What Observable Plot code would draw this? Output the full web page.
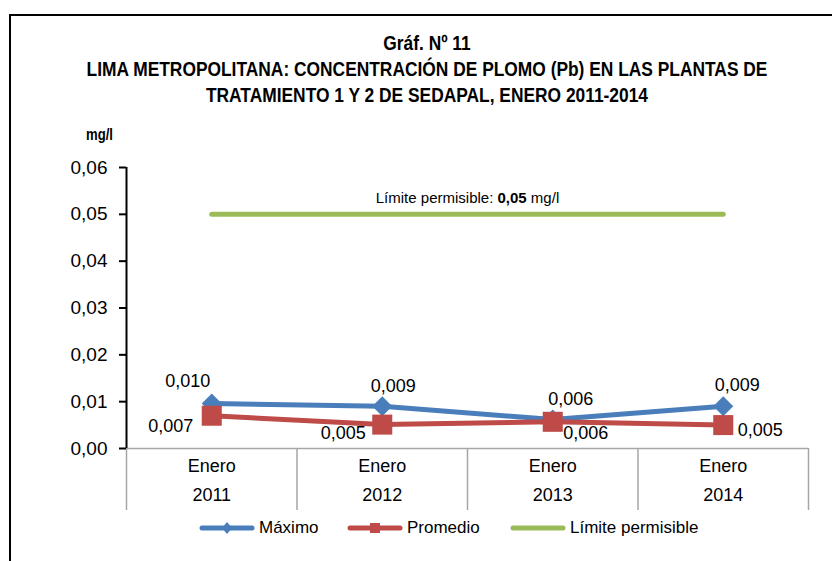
<!DOCTYPE html>
<html>
<head>
<meta charset="utf-8">
<script src="https://cdn.jsdelivr.net/npm/d3@7"></script>
<script src="https://cdn.jsdelivr.net/npm/@observablehq/plot@0.6"></script>
<style>
  html, body { margin: 0; padding: 0; background: #fff; }
  #wrap { position: relative; width: 832px; height: 561px; overflow: hidden; font-family: "Liberation Sans", Arial, sans-serif; color: #000; }
  #frame { position: absolute; left: 9px; top: 14px; width: 900px; height: 600px; border-left: 2px solid #000; border-top: 2px solid #000; }
  #title { position: absolute; left: 10px; width: 834px; top: 30px; text-align: center; font-family: "Liberation Sans", Arial, sans-serif; font-weight: bold; font-size: 21px; line-height: 26px; transform: scaleX(0.827); transform-origin: 417px 0; }
  #unit { position: absolute; left: 86px; top: 126px; font-family: "Liberation Sans", Arial, sans-serif; font-weight: bold; font-size: 16px; transform: scaleX(0.82); transform-origin: 0 0; }
  #chart { position: absolute; left: 0; top: 120px; }
  #legend { position: absolute; top: 515px; left: 0; width: 832px; height: 26px; font-size: 17px; }
  .item { position: absolute; top: 0; display: flex; align-items: center; height: 26px; }
  .item svg { margin-right: 4px; }
</style>
</head>
<body>
<div id="wrap">
  <div id="frame"></div>
  <div id="title"></div>
  <div id="unit"></div>
  <div id="chart"></div>
  <div id="legend"></div>
</div>
<script>
// ---- data ----
const titleLines = [
  "Gráf. Nº 11",
  "LIMA METROPOLITANA: CONCENTRACIÓN DE PLOMO (Pb) EN LAS PLANTAS DE",
  "TRATAMIENTO 1 Y 2 DE SEDAPAL, ENERO 2011-2014"
];
const unitLabel = "mg/l";
const categories = ["Enero 2011", "Enero 2012", "Enero 2013", "Enero 2014"];
const maximo = [0.0096, 0.0090, 0.0062, 0.0090];
const promedio = [0.0070, 0.0051, 0.0057, 0.0050];
const limite = [0.05, 0.05, 0.05, 0.05];
const yTicks = [0, 0.01, 0.02, 0.03, 0.04, 0.05, 0.06];
const seriesNames = ["Máximo", "Promedio", "Límite permisible"];
const limitLabel = ["Límite permisible: ", "0,05", " mg/l"];
// label placement (pixel offsets from each point)
const maxLabelOffsets = [[-24, -22], [11, -20], [18, -20], [14, -21]];
const promLabelOffsets = [[-41, 11], [-39, 9], [33, 11], [37, 5]];

const colors = {max: "#4A7EBB", prom: "#BE4B48", lim: "#9BBB59"};
const fmt2 = d => d.toFixed(2).replace(".", ",");
const fmt3 = d => d.toFixed(3).replace(".", ",");

document.getElementById("title").innerHTML = titleLines.join("<br>");
document.getElementById("unit").textContent = unitLabel;

const idx = categories.map((_, i) => i);
const bounds = d3.range(categories.length + 1).map(i => i - 0.5);

const labelMarks = [];
idx.forEach(i => {
  labelMarks.push(Plot.text([i], {x: d => d, y: d => maximo[d], text: d => fmt3(maximo[d]),
    dx: maxLabelOffsets[i][0], dy: maxLabelOffsets[i][1], lineAnchor: "middle", fontSize: 18, fill: "#000"}));
  labelMarks.push(Plot.text([i], {x: d => d, y: d => promedio[d], text: d => fmt3(promedio[d]),
    dx: promLabelOffsets[i][0], dy: promLabelOffsets[i][1], lineAnchor: "middle", fontSize: 18, fill: "#000"}));
});

const plot = Plot.plot({
  width: 832,
  height: 400,
  marginLeft: 126,
  marginRight: 24,
  marginTop: 47,
  marginBottom: 72,
  style: {fontFamily: "'Liberation Sans', Arial, sans-serif", fontSize: "18px", color: "#000", background: "transparent", overflow: "visible"},
  x: {type: "linear", domain: [-0.5, categories.length - 0.5], axis: null},
  y: {domain: [0, 0.06], axis: null},
  marks: [
    Plot.ruleY([0], {stroke: "#a6a6a6", strokeWidth: 1.5}),
    Plot.ruleX(bounds, {x: d => d, y1: 0, y2: 0, insetBottom: -62, stroke: "#a6a6a6", strokeWidth: 1.5}),
    Plot.axisY(yTicks, {anchor: "left", tickSize: 7, tickPadding: 12, tickFormat: fmt2, fontSize: 19, stroke: "#000", strokeWidth: 2, fill: "#000"}),
    Plot.ruleX([-0.5], {y1: 0, y2: 0.06, stroke: "#000", strokeWidth: 2}),
    Plot.text(idx, {x: d => d, y: 0, text: d => categories[d].replace(" ", "\n"), lineAnchor: "top", lineHeight: 1.65, dy: 2, fontSize: 18, fill: "#000"}),
    Plot.line(idx, {x: d => d, y: d => limite[d], stroke: colors.lim, strokeWidth: 5, strokeLinecap: "round"}),
    Plot.text([1.5], {x: d => d, y: limite[0], text: () => limitLabel.join(""), dy: -16, lineAnchor: "middle", fontSize: 15, fill: "#000"}),
    Plot.line(idx, {x: d => d, y: d => maximo[d], stroke: colors.max, strokeWidth: 5}),
    Plot.dot(idx, {x: d => d, y: d => maximo[d], symbol: "diamond2", r: 9, fill: colors.max, stroke: "none"}),
    Plot.line(idx, {x: d => d, y: d => promedio[d], stroke: colors.prom, strokeWidth: 5}),
    Plot.dot(idx, {x: d => d, y: d => promedio[d], symbol: "square", r: 11.3, fill: colors.prom, stroke: "none"}),
    ...labelMarks
  ]
});
document.getElementById("chart").appendChild(plot);

// make the "0,05" in the limit label bold
d3.select(plot).selectAll("text").each(function() {
  if (this.textContent === limitLabel.join("")) {
    const t = d3.select(this);
    t.text(null);
    t.append("tspan").text(limitLabel[0]);
    t.append("tspan").attr("font-weight", "bold").text(limitLabel[1]);
    t.append("tspan").text(limitLabel[2]);
  }
});

// legend
const legend = document.getElementById("legend");
const legendItems = [
  {name: seriesNames[0], color: colors.max, symbol: "diamond", left: 199},
  {name: seriesNames[1], color: colors.prom, symbol: "square", left: 347},
  {name: seriesNames[2], color: colors.lim, symbol: null, left: 510}
];
legendItems.forEach(it => {
  const div = document.createElement("div");
  div.className = "item";
  div.style.left = it.left + "px";
  let sym = "";
  if (it.symbol === "diamond") sym = `<path d="M28,7 L33,13 L28,19 L23,13 Z" fill="${it.color}"/>`;
  if (it.symbol === "square") sym = `<rect x="23" y="8" width="10" height="10" fill="${it.color}"/>`;
  div.innerHTML = `<svg width="56" height="26"><line x1="3" y1="13" x2="53" y2="13" stroke="${it.color}" stroke-width="5" stroke-linecap="round"/>${sym}</svg><span>${it.name}</span>`;
  legend.appendChild(div);
});
</script>
</body>
</html>
